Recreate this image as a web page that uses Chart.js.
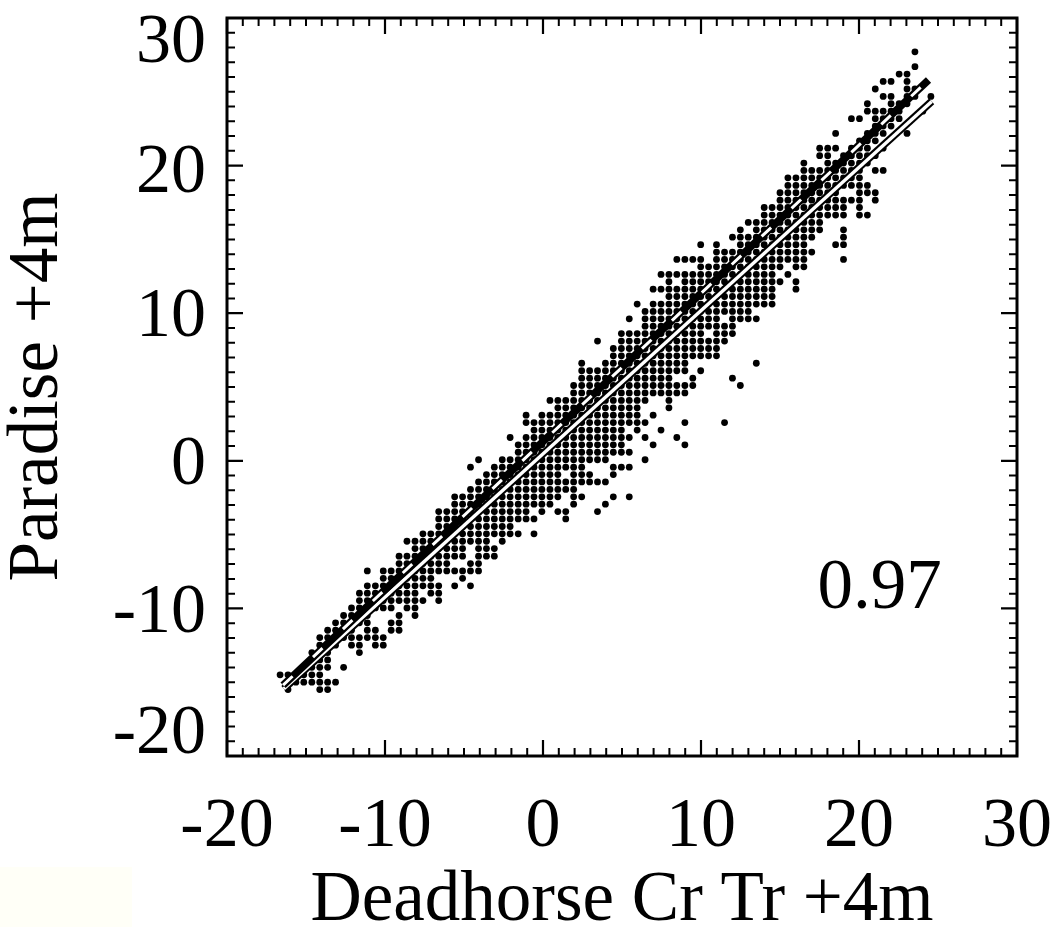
<!DOCTYPE html>
<html>
<head>
<meta charset="utf-8">
<style>
html,body{margin:0;padding:0;background:#fff;width:1057px;height:927px;overflow:hidden}
#patch{position:absolute;left:0;top:867px;width:132px;height:60px;background:#fffff7}
canvas{position:absolute;left:0;top:0}
</style>
<script src="https://cdn.jsdelivr.net/npm/chart.js@4/dist/chart.umd.min.js"></script>
</head>
<body>
<div id="patch"></div>
<canvas id="c" width="1057" height="927"></canvas>
<script>
const xAxisTitle = "Deadhorse Cr Tr +4m";
const yAxisTitle = "Paradise +4m";
const correlationLabel = "0.97";
const axisTicks = [-20,-10,0,10,20,30];
const minorTicks = [-19,-18,-17,-16,-15,-14,-13,-12,-11,-9,-8,-7,-6,-5,-4,-3,-2,-1,1,2,3,4,5,6,7,8,9,11,12,13,14,15,16,17,18,19,21,22,23,24,25,26,27,28,29];
// Measured grid levels of the temperature pairs (first entry is column -1)
const xLevels = [-16.64,-16.14,-15.64,-15.14,-14.63,-14.13,-13.63,-13.13,-12.62,-12.12,-11.62,-11.12,-10.61,-10.11,-9.61,-9.11,-8.61,-8.10,-7.60,-7.10,-6.60,-6.09,-5.59,-5.09,-4.59,-4.08,-3.58,-3.08,-2.58,-2.08,-1.57,-1.07,-0.57,-0.07,0.44,0.94,1.44,1.94,2.45,2.95,3.45,3.95,4.45,4.96,5.46,5.96,6.46,6.97,7.47,7.97,8.47,8.98,9.48,9.98,10.48,10.98,11.49,11.99,12.49,12.99,13.50,14.00,14.50,15.00,15.50,16.01,16.51,17.01,17.51,18.02,18.52,19.02,19.52,20.03,20.53,21.03,21.53,22.03,22.54,23.04,23.54,24.04,24.55];
const yLevels = [-15.50,-15.00,-14.50,-13.99,-13.49,-12.99,-12.49,-11.98,-11.48,-10.98,-10.48,-9.97,-9.47,-8.97,-8.47,-7.96,-7.46,-6.96,-6.46,-5.95,-5.45,-4.95,-4.45,-3.94,-3.44,-2.94,-2.44,-1.94,-1.43,-0.93,-0.43,0.07,0.58,1.08,1.58,2.08,2.59,3.09,3.59,4.09,4.60,5.10,5.60,6.10,6.61,7.11,7.61,8.11,8.62,9.12,9.62,10.12,10.62,11.13,11.63,12.13,12.63,13.14,13.64,14.14,14.64,15.15,15.65,16.15,16.65,17.16,17.66,18.16,18.66,19.17,19.67,20.17,20.67,21.18,21.68,22.18,22.68,23.18,23.69,24.19,24.69,25.19,25.70,26.20,26.70,27.20,27.71];
// Occupied columns for each y level ("a:b" = columns a to b)
const occupiedColumns = ["0 4:5","0:6","-1:4","2:5 7","3:5","3:5 9","4:6 8:9 11:12","4:12","5:8 10:11 13:14","6:10 13:14","7:10 14 16","8:13 15:16","9:17 19","9:16 18:19","10:19 21 23","12:18 22","10 12:24","14:20 23:24","14:22 24:26","16:22 24:26","15:25 27","17:29 31","19:28","19:31 35","19:30 32 34:35 39","21:33 36 40","21:34 36:37 41 43","23:36","24:40","25:34 36:38 41","23 26:37 41:43","24 27:40 45","29:43","29:42 46 50","28 30:43 45 49","31:42 44 47","30:45 50 55","30 32:44 46","34:44 48","33:45 48","36:50","36:51 57","37:48 51 56","37:50 52","37 40:50 59","41:54","41:54","39 42:55","42:52 54:56","45:56","43 45:54 56:59","45:58","44 46:61","48:61","46:61 64","48 50:62 64","47:61 63","52:62 64:65","49:52 54:65 70","54:66","52 54 57:65 69:70","56:66 70","57 59:67 70","58:67","60:70 72:73","60:70 72","62:72 74","62:69 72:74","63:73","63:72","65:72 74:75","65 68:73","67:68 70:74","67:69 71:73 75","72:74","69 73:75 78","74:76","71:72 74:77","73:77 80","73 76:78","75:76 78:79 81","74 78:79","75:76 78","77:78","79","","79"];
const upperLineX = [-16.45, 24.4];
const upperLineY = [-15.2, 25.8];
const lowerLineX = [-16.4, 24.6];
const lowerLineY = [-15.45, 24.35];
const labelX = 21.3, labelY = -8.7;

const points = [];
occupiedColumns.forEach((row, n) => {
  row.split(" ").filter(Boolean).forEach(run => {
    const parts = run.split(":").map(Number);
    const a = parts[0], b = parts.length > 1 ? parts[1] : parts[0];
    for (let i = a; i <= b; i++) points.push({x: xLevels[i + 1], y: yLevels[n]});
  });
});
const zip = (xs, ys) => xs.map((x, k) => ({x, y: ys[k]}));

const FONT = "'Liberation Serif','Times New Roman',serif";
const FS = 70;
const TS = 71;

function shiftLabels(scale, shifts) {
  const orig = scale._computeLabelItems;
  if (scale._shifted) return;
  scale._shifted = true;
  scale._computeLabelItems = function (area) {
    const items = orig.call(this, area);
    items.forEach(it => {
      const s = shifts[it.label] || 0;
      it.options.translation = [it.options.translation[0], it.options.translation[1] + s];
    });
    return items;
  };
}
function noPadding(s) { s.paddingLeft = 0; s.paddingRight = 0; s.paddingTop = 0; s.paddingBottom = 0; }

const frame = {
  id: "frame",
  afterDatasetsDraw(chart) {
    const {ctx, chartArea: a, scales: {x, y}} = chart;
    ctx.save();
    ctx.strokeStyle = "#000";
    ctx.lineWidth = 3;
    ctx.strokeRect(a.left, a.top, a.right - a.left, a.bottom - a.top);
    const tick = (vals, len, w) => {
      ctx.lineWidth = w;
      ctx.beginPath();
      vals.forEach(v => {
        const px = x.getPixelForValue(v), py = y.getPixelForValue(v);
        ctx.moveTo(px, a.bottom); ctx.lineTo(px, a.bottom - len);
        ctx.moveTo(px, a.top); ctx.lineTo(px, a.top + len);
        ctx.moveTo(a.left, py); ctx.lineTo(a.left + len, py);
        ctx.moveTo(a.right, py); ctx.lineTo(a.right - len, py);
      });
      ctx.stroke();
    };
    tick(minorTicks, 8, 2);
    tick(axisTicks, 16, 2.2);
    ctx.fillStyle = "#000";
    ctx.font = TS + "px " + FONT;
    ctx.textAlign = "center";
    ctx.textBaseline = "middle";
    ctx.fillText(correlationLabel, x.getPixelForValue(labelX), y.getPixelForValue(labelY));
    ctx.restore();
  }
};

new Chart(document.getElementById("c"), {
  type: "scatter",
  data: {datasets: [
    {label: "pairs", data: points, pointStyle: "circle", pointRadius: 3.4, borderWidth: 0, pointBorderWidth: 0, pointBackgroundColor: "#000", showLine: false, order: 5},
    {label: "lower edge", data: zip(lowerLineX, lowerLineY), showLine: true, pointRadius: 0, borderColor: "#000", borderWidth: 7.5, order: 4},
    {label: "lower", data: zip(lowerLineX, lowerLineY), showLine: true, pointRadius: 0, borderColor: "#fff", borderWidth: 3.4, order: 3},
    {label: "upper", data: zip(upperLineX, upperLineY), showLine: true, pointRadius: 0, borderColor: "#000", borderWidth: 7.5, order: 2},
    {label: "upper dash", data: zip(upperLineX, upperLineY), showLine: true, pointRadius: 0, borderColor: "#fff", borderWidth: 3, borderDash: [13, 28], order: 1}
  ]},
  plugins: [frame],
  options: {
    responsive: false,
    animation: false,
    events: [],
    layout: {padding: {left: 0, top: 18, right: 40, bottom: 0}},
    plugins: {legend: {display: false}, tooltip: {enabled: false}},
    scales: {
      x: {
        type: "linear", min: -20, max: 30,
        grid: {display: false}, border: {display: false},
        afterFit(s) { s.height = 171; noPadding(s); },
        afterBuildTicks(s) { s.ticks = axisTicks.map(v => ({value: v})); },
        ticks: {font: {family: FONT, size: FS}, color: "#000", padding: 22, maxRotation: 0, autoSkip: false, includeBounds: true},
        title: {display: true, text: xAxisTitle, font: {family: FONT, size: TS, lineHeight: 0.72}, color: "#000", padding: {top: 0, bottom: 0}}
      },
      y: {
        type: "linear", min: -20, max: 30,
        grid: {display: false}, border: {display: false},
        afterFit(s) { s.width = 227; noPadding(s); shiftLabels(s, {"30": 26, "20": 8, "10": 4, "0": 5, "-10": 5, "-20": -21}); },
        afterBuildTicks(s) { s.ticks = axisTicks.map(v => ({value: v})); },
        ticks: {font: {family: FONT, size: FS}, color: "#000", padding: 13, autoSkip: false},
        title: {display: true, text: yAxisTitle, font: {family: FONT, size: TS, lineHeight: 1.08}, color: "#000", padding: {top: 0, bottom: 0}}
      }
    }
  }
});
</script>
</body>
</html>
